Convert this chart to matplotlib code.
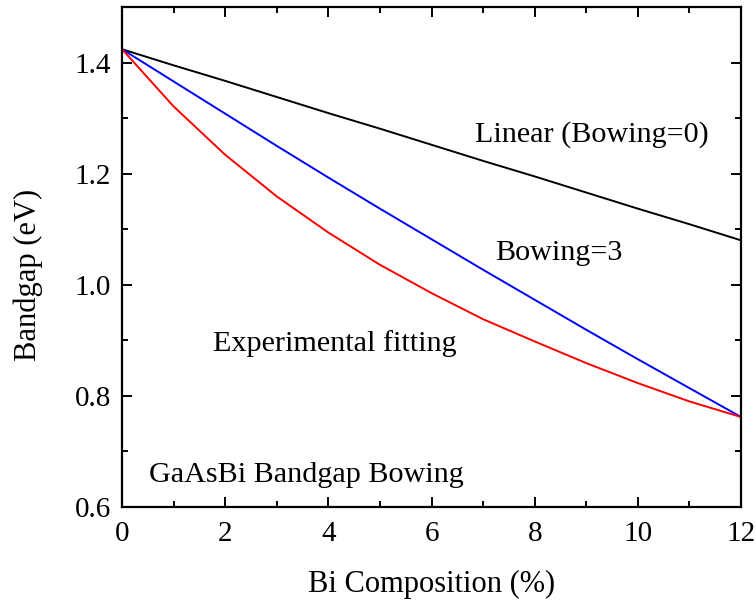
import matplotlib
matplotlib.use("Agg")
import matplotlib.pyplot as plt
from matplotlib.ticker import MultipleLocator

# Bi composition (%)
bi_comp = [0, 1, 2, 3, 4, 5, 6, 7, 8, 9, 10, 11, 12]

# bandgap values (eV)
eg_linear = [1.424, 1.395, 1.367, 1.338, 1.309, 1.281, 1.252, 1.223, 1.195, 1.166, 1.137, 1.109, 1.080]
eg_bowing3 = [1.424, 1.366, 1.308, 1.250, 1.193, 1.137, 1.082, 1.027, 0.973, 0.919, 0.866, 0.814, 0.762]
eg_fit = [1.424, 1.321, 1.234, 1.159, 1.094, 1.036, 0.985, 0.938, 0.898, 0.859, 0.823, 0.790, 0.762]

y_ticks = [0.6, 0.8, 1.0, 1.2, 1.4]
y_tick_labels = ['0.6', '0.8', '1.0', '1.2', '1.4']

plt.rcParams['font.family'] = ['Liberation Serif', 'DejaVu Serif']

fig = plt.figure(figsize=(7.56, 6.03), dpi=100)
ax = fig.add_axes([0.1614, 0.1592, 0.8188, 0.8292])

ax.plot(bi_comp, eg_linear, color='black', lw=1.4)
ax.plot(bi_comp, eg_bowing3, color='blue', lw=1.4)
ax.plot(bi_comp, eg_fit, color='red', lw=1.4)

# annotations inside the plot
ax.text(6.84, 1.27, 'Linear (Bowing=0)', fontsize=21.7, va='center')
ax.text(7.23, 1.058, 'Bowing=3', fontsize=21.7, va='center')
ax.text(1.76, 0.895, 'Experimental fitting', fontsize=21.7, va='center')
ax.text(0.52, 0.658, 'GaAsBi Bandgap Bowing', fontsize=21.7, va='center')

ax.set_xlim(0, 12)
ax.set_ylim(0.6, 1.5)
ax.xaxis.set_major_locator(MultipleLocator(2))
ax.xaxis.set_minor_locator(MultipleLocator(1))
ax.set_yticks(y_ticks)
ax.set_yticklabels(y_tick_labels)
ax.yaxis.set_minor_locator(MultipleLocator(0.1))

ax.tick_params(which='both', direction='in', top=True, right=True, width=1.4)
ax.tick_params(which='major', length=7, labelsize=21)
ax.tick_params(which='minor', length=4)
ax.tick_params(axis='x', which='major', pad=10)
ax.tick_params(axis='y', which='major', pad=8)
for s in ax.spines.values():
    s.set_linewidth(1.6)

ax.set_xlabel('Bi Composition (%)', fontsize=22)
ax.set_ylabel('Bandgap (eV)', fontsize=22)
ax.xaxis.set_label_coords(0.5, -0.125)
ax.yaxis.set_label_coords(-0.128, 0.465)

fig.savefig('out.png', dpi=100)
